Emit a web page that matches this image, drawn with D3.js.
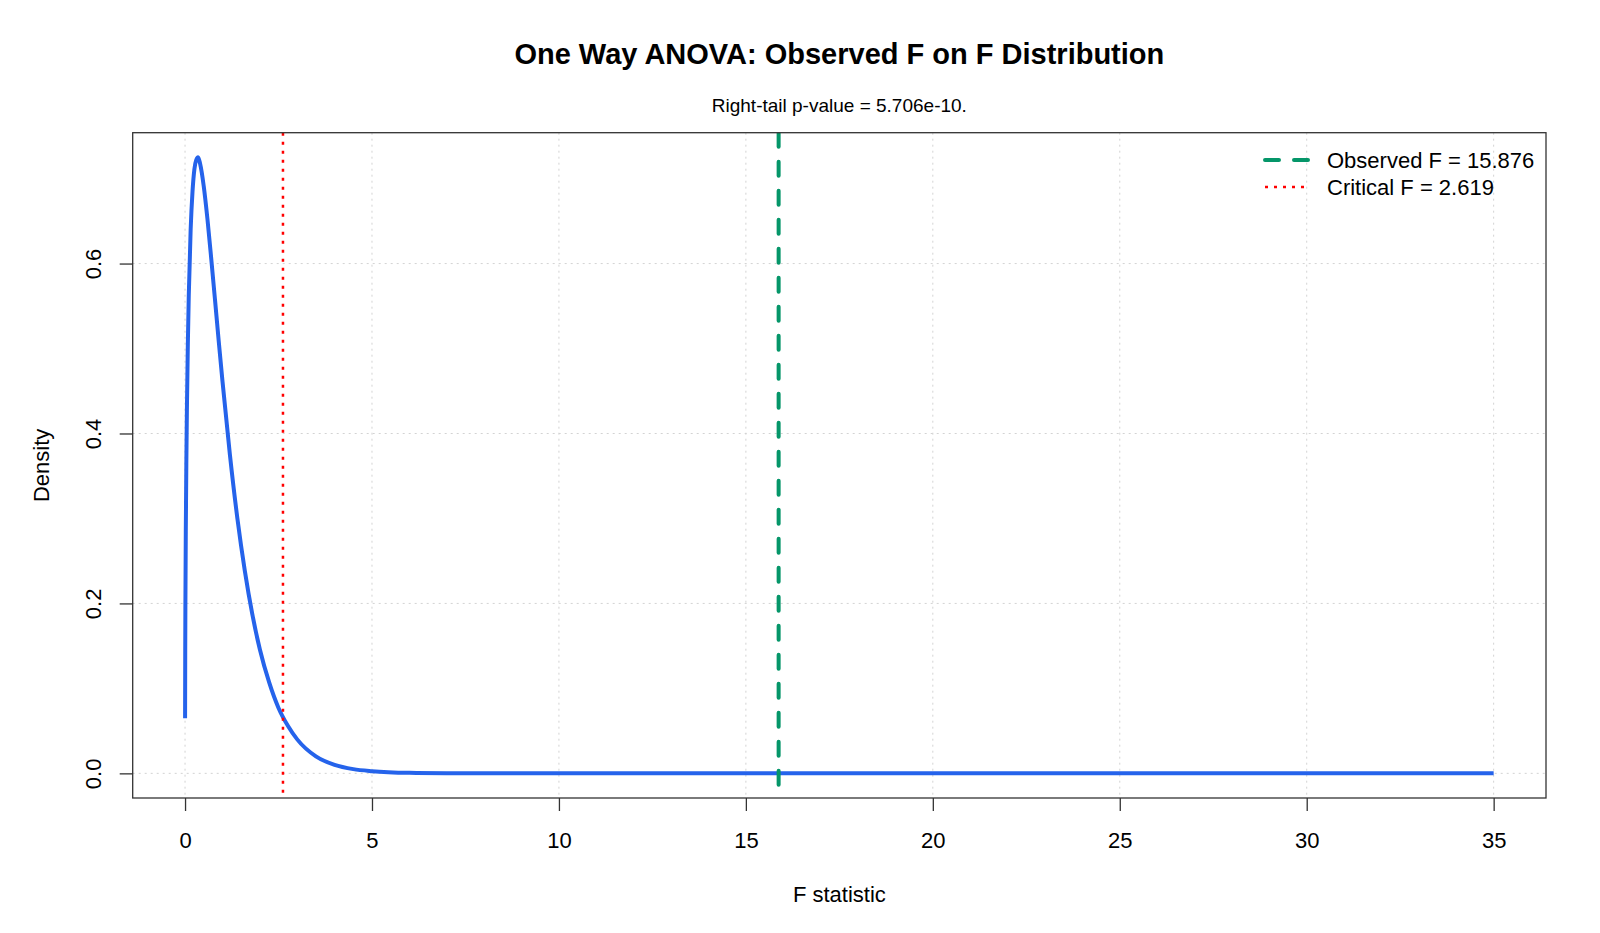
<!DOCTYPE html>
<html lang="en">
<head>
<meta charset="utf-8">
<title>One Way ANOVA: Observed F on F Distribution</title>
<script src="https://d3js.org/d3.v7.min.js"></script>
<style>
  body { margin: 0; background: #fff; }
  text { font-family: "Liberation Sans", Arial, sans-serif; fill: #000; }
</style>
</head>
<body>
<script>
// F statistic grid and density
var fStat = [0.001, 0.005, 0.01, 0.02, 0.035, 0.05, 0.075, 0.1, 0.15, 0.2, 0.25, 0.3, 0.35, 0.4,
  0.5, 0.6, 0.7, 0.8, 0.9, 1.0, 1.2, 1.4, 1.6, 1.8, 2.0, 2.25, 2.5, 2.75, 3.0, 3.5, 4.0, 4.5,
  5, 6, 7, 8, 10, 15, 20, 25, 30, 35];
var density = [0.065, 0.145, 0.204, 0.284, 0.367, 0.429, 0.506, 0.563, 0.640, 0.685, 0.711, 0.722, 0.725, 0.718,
  0.691, 0.652, 0.606, 0.558, 0.509, 0.462, 0.375, 0.300, 0.238, 0.187, 0.146, 0.107, 0.077, 0.056, 0.040, 0.020, 0.010, 0.005,
  0.0026, 0.0006, 0.00014, 0.00003, 0, 0, 0, 0, 0, 0];

var observedF = 15.876;
var criticalF = 2.619;
var pValue = "5.706e-10";

var xTicks = [0, 5, 10, 15, 20, 25, 30, 35];
var yTicks = [0, 0.2, 0.4, 0.6];

var legendLabels = ["Observed F = 15.876", "Critical F = 2.619"];

//Size of the page and the plot box
var W = 1600, H = 933;
var box = {left: 132.7, top: 132.7, right: 1546, bottom: 798};

var svg = d3.select("body").append("svg")
  .attr("width", W).attr("height", H);

//R style 4% padding round the data
var xMax = d3.max(fStat);
var xPad = 0.04 * (xMax - 0);
var xScale = d3.scaleLinear()
  .domain([0 - xPad, xMax + xPad])
  .range([box.left, box.right]);

var yMax = d3.max(density);
var yPad = 0.04 * yMax;
var yScale = d3.scaleLinear()
  .domain([0 - yPad, yMax + yPad])
  .range([box.bottom, box.top]);

svg.append("clipPath").attr("id", "plotclip")
  .append("rect")
  .attr("x", box.left).attr("y", box.top)
  .attr("width", box.right - box.left).attr("height", box.bottom - box.top);

//grid
var grid = svg.append("g").attr("clip-path", "url(#plotclip)");
grid.selectAll("line.gx").data(xTicks).enter().append("line")
  .attr("x1", function(d) { return xScale(d); })
  .attr("x2", function(d) { return xScale(d); })
  .attr("y1", box.top).attr("y2", box.bottom)
  .attr("stroke", "#d3d3d3").attr("stroke-width", 1)
  .attr("stroke-dasharray", "2,4");
grid.selectAll("line.gy").data(yTicks).enter().append("line")
  .attr("y1", function(d) { return yScale(d); })
  .attr("y2", function(d) { return yScale(d); })
  .attr("x1", box.left).attr("x2", box.right)
  .attr("stroke", "#d3d3d3").attr("stroke-width", 1)
  .attr("stroke-dasharray", "2,4");

//density curve
var pts = fStat.map(function(x, i) { return [x, density[i]]; });
var line = d3.line()
  .x(function(d) { return xScale(d[0]); })
  .y(function(d) { return yScale(d[1]); })
  .curve(d3.curveMonotoneX);

var plot = svg.append("g").attr("clip-path", "url(#plotclip)");
plot.append("path")
  .datum(pts)
  .attr("d", line)
  .attr("fill", "none")
  .attr("stroke", "#2563eb")
  .attr("stroke-width", 4)
  .attr("stroke-linejoin", "round");

//observed and critical F
plot.append("line")
  .attr("x1", xScale(observedF)).attr("x2", xScale(observedF))
  .attr("y1", box.top).attr("y2", box.bottom)
  .attr("stroke", "#059669").attr("stroke-width", 4)
  .attr("stroke-linecap", "round")
  .attr("stroke-dasharray", "14,15");
plot.append("line")
  .attr("x1", xScale(criticalF)).attr("x2", xScale(criticalF))
  .attr("y1", box.top).attr("y2", box.bottom)
  .attr("stroke", "#ff0000").attr("stroke-width", 2.5)
  .attr("stroke-dasharray", "3,6");

//axes
var xAxis = d3.axisBottom(xScale).tickValues(xTicks).tickSize(13).tickPadding(21)
  .tickFormat(d3.format("d"));
var xg = svg.append("g").attr("transform", "translate(0," + box.bottom + ")").call(xAxis);
xg.select(".domain").remove();
xg.selectAll("line").attr("stroke", "#333").attr("stroke-width", 1.3);
xg.selectAll("text").attr("font-size", "22px").style("font-family", "Liberation Sans, Arial, sans-serif");

var yAxis = d3.axisLeft(yScale).tickValues(yTicks).tickSize(13).tickFormat(d3.format(".1f"));
var yg = svg.append("g").attr("transform", "translate(" + box.left + ",0)").call(yAxis);
yg.select(".domain").remove();
yg.selectAll("line").attr("stroke", "#333").attr("stroke-width", 1.3);
yg.selectAll("text")
  .attr("font-size", "22px")
  .style("font-family", "Liberation Sans, Arial, sans-serif")
  .attr("text-anchor", "middle")
  .attr("dy", "0.35em")
  .attr("x", 0)
  .attr("transform", "translate(-39,0) rotate(-90)");

//plot box
svg.append("rect")
  .attr("x", box.left).attr("y", box.top)
  .attr("width", box.right - box.left).attr("height", box.bottom - box.top)
  .attr("fill", "none").attr("stroke", "#333").attr("stroke-width", 1.3);

//titles
svg.append("text")
  .attr("x", (box.left + box.right) / 2).attr("y", 54).attr("dy", "0.35em")
  .attr("text-anchor", "middle")
  .attr("font-size", "29px").attr("font-weight", "bold")
  .text("One Way ANOVA: Observed F on F Distribution");

svg.append("text")
  .attr("x", (box.left + box.right) / 2).attr("y", 105).attr("dy", "0.35em")
  .attr("text-anchor", "middle")
  .attr("font-size", "19px")
  .text("Right-tail p-value = " + pValue + ".");

svg.append("text")
  .attr("x", (box.left + box.right) / 2).attr("y", 894).attr("dy", "0.35em")
  .attr("text-anchor", "middle")
  .attr("font-size", "22px")
  .text("F statistic");

svg.append("text")
  .attr("transform", "translate(41," + ((box.top + box.bottom) / 2) + ") rotate(-90)")
  .attr("dy", "0.35em")
  .attr("text-anchor", "middle")
  .attr("font-size", "22px")
  .text("Density");

//legend
var legend = svg.append("g");
var legendStyles = [
  {color: "#059669", width: 4, dash: "14,15", cap: "round"},
  {color: "#ff0000", width: 2.5, dash: "3,6", cap: "butt"}
];
legendLabels.forEach(function(lab, i) {
  var y = 160 + i * 27;
  legend.append("line")
    .attr("x1", 1265).attr("x2", 1309).attr("y1", y).attr("y2", y)
    .attr("stroke", legendStyles[i].color)
    .attr("stroke-width", legendStyles[i].width)
    .attr("stroke-linecap", legendStyles[i].cap)
    .attr("stroke-dasharray", legendStyles[i].dash);
  legend.append("text")
    .attr("x", 1327).attr("y", y).attr("dy", "0.35em")
    .attr("font-size", "22px")
    .text(lab);
});
</script>
</body>
</html>
